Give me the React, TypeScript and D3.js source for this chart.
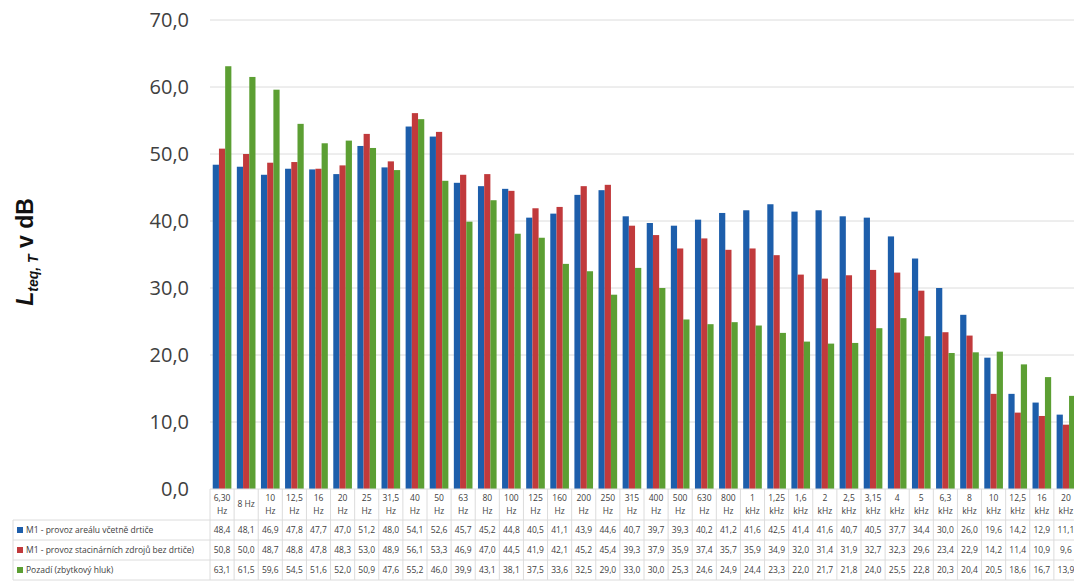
import React from "react";
import * as d3 from "d3";

// Octave-band frequencies (1/3 octave) shown along the x axis
const CATEGORIES = [
  "6,30 Hz", "8 Hz", "10 Hz", "12,5 Hz", "16 Hz", "20 Hz", "25 Hz", "31,5 Hz", "40 Hz", "50 Hz",
  "63 Hz", "80 Hz", "100 Hz", "125 Hz", "160 Hz", "200 Hz", "250 Hz", "315 Hz", "400 Hz", "500 Hz",
  "630 Hz", "800 Hz", "1 kHz", "1,25 kHz", "1,6 kHz", "2 kHz", "2,5 kHz", "3,15 kHz", "4 kHz", "5 kHz",
  "6,3 kHz", "8 kHz", "10 kHz", "12,5 kHz", "16 kHz", "20 kHz",
];

const SERIES_NAMES = [
  "M1 - provoz areálu včetně drtiče",
  "M1 - provoz stacinárních zdrojů bez drtiče)",
  "Pozadí (zbytkový hluk)",
];

const AREA_WITH_CRUSHER = [
  48.4, 48.1, 46.9, 47.8, 47.7, 47.0, 51.2, 48.0, 54.1, 52.6,
  45.7, 45.2, 44.8, 40.5, 41.1, 43.9, 44.6, 40.7, 39.7, 39.3,
  40.2, 41.2, 41.6, 42.5, 41.4, 41.6, 40.7, 40.5, 37.7, 34.4,
  30.0, 26.0, 19.6, 14.2, 12.9, 11.1,
];

const STATIONARY_NO_CRUSHER = [
  50.8, 50.0, 48.7, 48.8, 47.8, 48.3, 53.0, 48.9, 56.1, 53.3,
  46.9, 47.0, 44.5, 41.9, 42.1, 45.2, 45.4, 39.3, 37.9, 35.9,
  37.4, 35.7, 35.9, 34.9, 32.0, 31.4, 31.9, 32.7, 32.3, 29.6,
  23.4, 22.9, 14.2, 11.4, 10.9, 9.6,
];

const BACKGROUND = [
  63.1, 61.5, 59.6, 54.5, 51.6, 52.0, 50.9, 47.6, 55.2, 46.0,
  39.9, 43.1, 38.1, 37.5, 33.6, 32.5, 29.0, 33.0, 30.0, 25.3,
  24.6, 24.9, 24.4, 23.3, 22.0, 21.7, 21.8, 24.0, 25.5, 22.8,
  20.3, 20.4, 20.5, 18.6, 16.7, 13.9,
];

const Y_TICKS = [0, 10, 20, 30, 40, 50, 60, 70];

const SERIES = [AREA_WITH_CRUSHER, STATIONARY_NO_CRUSHER, BACKGROUND];
const COLORS = ["#1d5eab", "#c13a3c", "#5c9f33"];

const W = 1074;
const H = 585;
const PLOT_LEFT = 210;
const PLOT_RIGHT = 1078;
const PLOT_TOP = 20;
const PLOT_BOTTOM = 489;
const TABLE_LEFT = 13;
const ROW_H = 20;
const ROWS_TOP = 520;

const FONT = "'Open Sans', 'DejaVu Sans', sans-serif";
const TEXT = "#404040";
const GRID = "#dcdcdc";

const fmt = (v: number) => d3.format(".1f")(v).replace(".", ",");

export default function App() {
  const x = d3
    .scaleBand<string>()
    .domain(CATEGORIES)
    .range([PLOT_LEFT, PLOT_RIGHT])
    .paddingInner(0)
    .paddingOuter(0);

  const inner = d3
    .scaleBand<number>()
    .domain([0, 1, 2])
    .range([0, x.bandwidth()])
    .paddingInner(0)
    .paddingOuter(0.44);

  const y = d3.scaleLinear().domain([0, 70]).range([PLOT_BOTTOM, PLOT_TOP]);

  const colEdges = CATEGORIES.map((c) => x(c) as number).concat([PLOT_RIGHT]);

  return (
    <svg
      width={W}
      height={H}
      viewBox={`0 0 ${W} ${H}`}
      style={{ position: "absolute", left: 0, top: 0, display: "block", background: "#fff" }}
      fontFamily={FONT}
    >
      {/* horizontal gridlines */}
      {Y_TICKS.filter((t) => t > 0).map((t) => (
        <line key={`g${t}`} x1={PLOT_LEFT} x2={W} y1={y(t)} y2={y(t)} stroke={GRID} strokeWidth={1} />
      ))}

      {/* y tick labels */}
      {Y_TICKS.map((t) => (
        <text key={`t${t}`} x={189} y={y(t)} dy="0.36em" textAnchor="end" fontSize={20} fill={TEXT}>
          {fmt(t)}
        </text>
      ))}

      {/* y axis title */}
      <text
        transform={`translate(33, 252) rotate(-90)`}
        textAnchor="middle"
        fontFamily="'Liberation Sans', Arial, sans-serif"
        fontWeight="bold"
        fill="#111"
      >
        <tspan fontSize={23} fontStyle="italic">L</tspan>
        <tspan fontSize={14} fontStyle="italic" dy={5}>teq, T</tspan>
        <tspan fontSize={23} dy={-5}> v dB</tspan>
      </text>

      {/* bars */}
      {CATEGORIES.map((c, i) => (
        <g key={`b${c}`} transform={`translate(${x(c)},0)`}>
          {SERIES.map((s, k) => (
            <rect
              key={k}
              x={inner(k)}
              y={y(s[i])}
              width={inner.bandwidth()}
              height={PLOT_BOTTOM - y(s[i])}
              fill={COLORS[k]}
            />
          ))}
        </g>
      ))}

      {/* data table: grid lines */}
      <line x1={PLOT_LEFT} x2={W} y1={PLOT_BOTTOM} y2={PLOT_BOTTOM} stroke={GRID} />
      {[0, 1, 2, 3].map((r) => (
        <line
          key={`hr${r}`}
          x1={TABLE_LEFT}
          x2={W}
          y1={ROWS_TOP + r * ROW_H}
          y2={ROWS_TOP + r * ROW_H}
          stroke={GRID}
        />
      ))}
      <line x1={TABLE_LEFT} x2={TABLE_LEFT} y1={ROWS_TOP} y2={ROWS_TOP + 3 * ROW_H} stroke={GRID} />
      {colEdges.map((e, i) => (
        <line key={`vc${i}`} x1={e} x2={e} y1={PLOT_BOTTOM} y2={ROWS_TOP + 3 * ROW_H} stroke={GRID} />
      ))}

      {/* header: frequency labels */}
      {CATEGORIES.map((c) => {
        const cx = (x(c) as number) + x.bandwidth() / 2;
        const parts = c.split(" ");
        if (c.length <= 4) {
          return (
            <text key={`h${c}`} x={cx} y={504} dy="0.35em" textAnchor="middle" fontSize={8.5} fill={TEXT}>
              {c}
            </text>
          );
        }
        return (
          <text key={`h${c}`} x={cx} textAnchor="middle" fontSize={8.5} fill={TEXT}>
            <tspan x={cx} y={498} dy="0.35em">{parts[0]}</tspan>
            <tspan x={cx} y={511} dy="0.35em">{parts[1]}</tspan>
          </text>
        );
      })}

      {/* legend column */}
      {SERIES_NAMES.map((name, k) => {
        const cy = ROWS_TOP + k * ROW_H + ROW_H / 2;
        return (
          <g key={`l${k}`}>
            <rect x={17} y={cy - 3} width={6} height={6} fill={COLORS[k]} />
            <text x={26} y={cy} dy="0.35em" fontSize={8.5} fill={TEXT}>
              {name}
            </text>
          </g>
        );
      })}

      {/* values */}
      {SERIES.map((s, k) =>
        CATEGORIES.map((c, i) => (
          <text
            key={`v${k}-${i}`}
            x={(x(c) as number) + x.bandwidth() / 2}
            y={ROWS_TOP + k * ROW_H + ROW_H / 2}
            dy="0.35em"
            textAnchor="middle"
            fontSize={8.5}
            fill={TEXT}
          >
            {fmt(s[i])}
          </text>
        ))
      )}
    </svg>
  );
}
